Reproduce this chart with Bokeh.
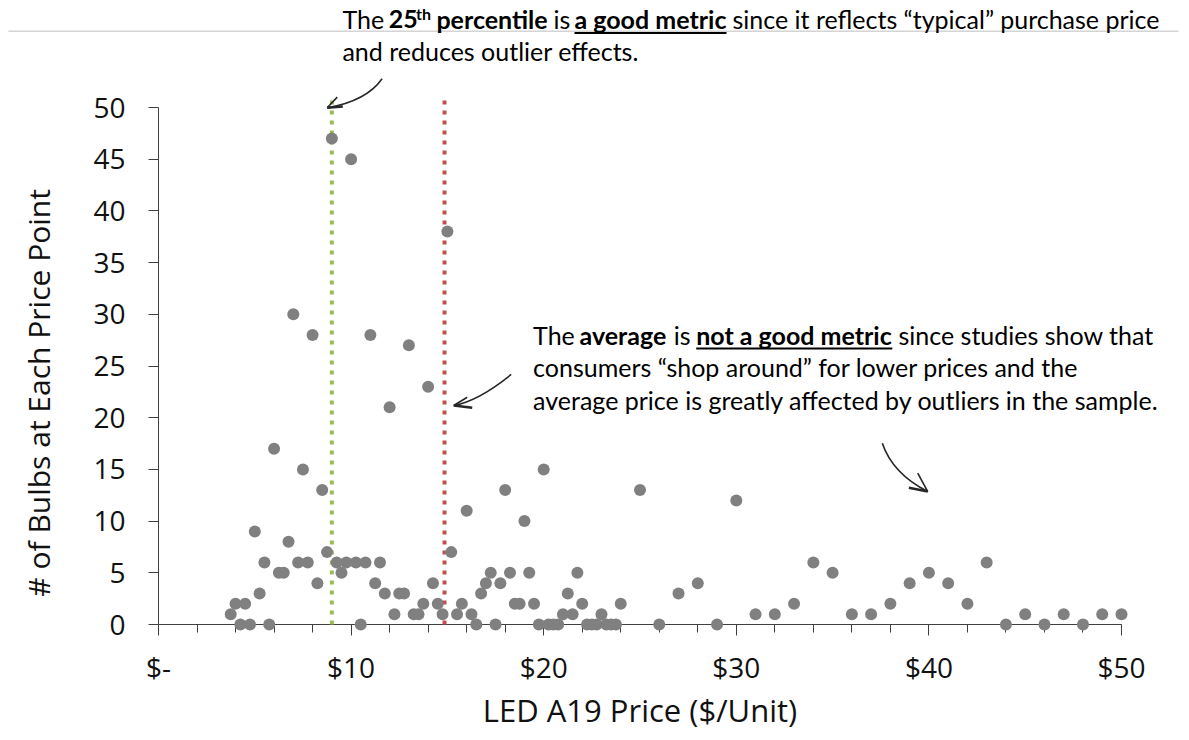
import math

from bokeh.plotting import figure
from bokeh.models import Range1d, FixedTicker, ColumnDataSource
from bokeh.core.properties import value
from bokeh.embed import file_html
from bokeh.resources import INLINE

# LED A19 bulbs: number of listings found at each unit price
price = [9, 10, 15, 7, 8, 11, 13, 14, 12, 6, 7.5, 20, 8.5, 18, 25, 30, 16, 19, 5, 6.75, 8.75, 15.2,
         5.5, 7.25, 7.75, 9.25, 9.75, 10.25, 10.75, 11.5, 34, 43,
         6.25, 6.5, 9.5, 17.25, 18.25, 19.25, 21.75, 35, 40,
         8.25, 11.25, 14.25, 17, 17.75, 28, 39, 41,
         5.25, 11.75, 12.5, 12.75, 16.75, 21.25, 27,
         4, 4.5, 13.75, 14.5, 15.75, 18.5, 18.75, 19.5, 22, 24, 33, 38, 42,
         3.75, 12.25, 13.25, 13.5, 14.75, 15.5, 16.25, 21, 21.5, 23, 31, 32, 36, 37, 45, 47, 49, 50,
         4.25, 4.75, 5.75, 10.5, 16.5, 17.5, 19.75, 20.25, 20.5, 20.75, 22.25, 22.5, 22.75,
         23.25, 23.5, 23.75, 26, 29, 44, 46, 48]
count = [47, 45, 38, 30, 28, 28, 27, 23, 21, 17, 15, 15, 13, 13, 13, 12, 11, 10, 9, 8, 7, 7,
         6, 6, 6, 6, 6, 6, 6, 6, 6, 6,
         5, 5, 5, 5, 5, 5, 5, 5, 5,
         4, 4, 4, 4, 4, 4, 4, 4,
         3, 3, 3, 3, 3, 3, 3,
         2, 2, 2, 2, 2, 2, 2, 2, 2, 2, 2, 2, 2,
         1, 1, 1, 1, 1, 1, 1, 1, 1, 1, 1, 1, 1, 1, 1, 1, 1, 1,
         0, 0, 0, 0, 0, 0, 0, 0, 0, 0, 0, 0, 0,
         0, 0, 0, 0, 0, 0, 0, 0]

pct25_price = 9.0      # 25th percentile price
avg_price = 14.85      # average price
marker_top = 51

x_ticks = [0, 10, 20, 30, 40, 50]
x_tick_labels = ["$-", "$10", "$20", "$30", "$40", "$50"]
x_minor_ticks = list(range(0, 51, 2))
y_ticks = list(range(0, 51, 5))

AXIS_FONT = "Open Sans"
NOTE_FONT = "Lato"
NOTE_SIZE = "25px"
INK = "#262626"
TOP = "overlay"   # drawn above the axes and not clipped to the plot frame

p = figure(width=1189, height=740, output_backend="svg", toolbar_location=None,
           x_range=Range1d(0, 50), y_range=Range1d(0, 50),
           min_border_left=158, min_border_right=68, min_border_top=107,
           min_border_bottom=116, background_fill_color="white",
           border_fill_color="white")
p.title.visible = False
p.outline_line_color = None
p.xgrid.visible = False
p.ygrid.visible = False

# x axis: dollar labels every $10, minor ticks every $2
xa = p.xaxis[0]
xa.ticker = FixedTicker(ticks=x_ticks, minor_ticks=x_minor_ticks)
xa.major_label_overrides = dict(zip(x_ticks, x_tick_labels))
xa.axis_label = "LED A19 Price ($/Unit)"
xa.major_tick_in = 0
xa.major_tick_out = 11
xa.minor_tick_in = 0
xa.minor_tick_out = 8
xa.major_label_standoff = 12
xa.axis_label_standoff = 0
xa.axis_label_text_font_size = "31px"

# y axis: counts every 5
ya = p.yaxis[0]
ya.ticker = FixedTicker(ticks=y_ticks)
ya.major_tick_in = 0
ya.major_tick_out = 10
ya.minor_tick_out = 0
ya.minor_tick_in = 0
ya.major_label_standoff = 23

for ax in (xa, ya):
    ax.axis_line_color = "#404040"
    ax.major_tick_line_color = "#404040"
    ax.minor_tick_line_color = "#404040"
    ax.major_label_text_font = AXIS_FONT
    ax.major_label_text_font_size = "28px"
    ax.major_label_text_color = "#111111"
    ax.axis_label_text_font = AXIS_FONT
    ax.axis_label_text_font_style = "normal"
    ax.axis_label_text_color = "#111111"

# y axis title, set a little below the middle of the axis
p.text(x=[-6.25], y=[22.4], text=["# of Bulbs at Each Price Point"], angle=math.pi / 2,
       text_font=value(AXIS_FONT), text_font_size=value("30px"), text_color="#111111",
       text_align="center", text_baseline="middle", level=TOP)

# thin rule across the top of the page
p.segment(x0=[-7.79], y0=[57.38], x1=[52.96], y1=[57.38], line_color="#d4d4d4",
          line_width=1.5, level=TOP)

# reference lines for the 25th percentile and the average price
p.segment(x0=[pct25_price], y0=[0], x1=[pct25_price], y1=[marker_top],
          line_color="#9BBB59", line_width=4, line_dash="4 6", level=TOP)
p.segment(x0=[avg_price], y0=[0], x1=[avg_price], y1=[marker_top],
          line_color="#C0504D", line_width=4, line_dash="4 6", level=TOP)

src = ColumnDataSource(data=dict(price=price, count=count))
p.scatter("price", "count", source=src, size=12, fill_color="#808080", line_color=None,
          level=TOP)

# hand-drawn style arrows
arrows = [
    # (x0, y0, cx, cy, x1, y1, barb_a, barb_b)
    (11.61, 52.78, 10.79, 50.62, 8.76, 49.97, (9.28, 51.00), (9.57, 50.10)),
    (18.31, 24.18, 16.61, 21.62, 15.33, 21.18, (16.03, 21.98), (16.29, 20.96)),
    (37.58, 17.53, 38.12, 14.58, 39.94, 12.86, (39.42, 14.63), (38.96, 13.22)),
]
for x0, y0, cx, cy, x1, y1, ba, bb in arrows:
    p.quadratic(x0=[x0], y0=[y0], cx=[cx], cy=[cy], x1=[x1], y1=[y1],
                line_color=INK, line_width=1.6, level=TOP)
    p.segment(x0=[x1], y0=[y1], x1=[ba[0]], y1=[ba[1]], line_color=INK, line_width=1.6,
              level=TOP)
    p.segment(x0=[x1], y0=[y1], x1=[bb[0]], y1=[bb[1]], line_color=INK, line_width=2.6,
              level=TOP)


def note(text, x, y, bold=False, size=NOTE_SIZE):
    p.text(x=[x], y=[y], text=[text], text_font=value(NOTE_FONT),
           text_font_size=value(size), text_font_style="bold" if bold else "normal",
           text_color="#000000", text_baseline="alphabetic", text_align="left", level=TOP)


def underline(x0, x1, y):
    p.segment(x0=[x0], y0=[y], x1=[x1], y1=[y], line_color="#000000", line_width=2, level=TOP)


# note on the 25th percentile
note("The", 9.55, 58.57)
note("25", 11.96, 58.57, bold=True)
note("th", 13.37, 59.12, bold=True, size="16px")
note("percentile", 14.43, 58.57, bold=True)
note("is", 20.51, 58.57)
note("a good metric", 21.60, 58.57, bold=True)
note("since it reflects \u201ctypical\u201d purchase price", 29.80, 58.57)
note("and reduces outlier effects.", 9.55, 55.51)
underline(21.60, 29.49, 57.20)

# note on the average
note("The", 19.45, 28.04)
note("average", 21.86, 28.04, bold=True)
note("is", 26.75, 28.04)
note("not a good metric", 27.92, 28.04, bold=True)
note("since studies show that", 38.42, 28.04)
note("consumers \u201cshop around\u201d for lower prices and the", 19.45, 24.92)
note("average price is greatly affected by outliers in the sample.", 19.45, 21.76)
underline(27.92, 38.10, 26.69)

open("out.html", "w").write(file_html(p, INLINE))
